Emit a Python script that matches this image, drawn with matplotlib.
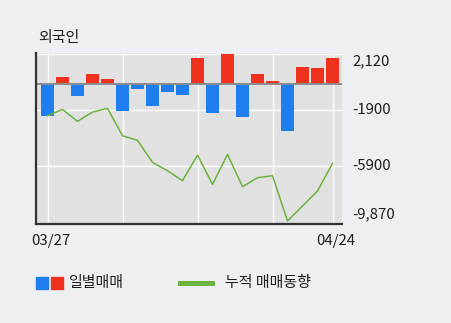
import matplotlib
matplotlib.use("Agg")
import matplotlib.pyplot as plt
from matplotlib.patches import Rectangle
from matplotlib.lines import Line2D
from matplotlib.transforms import offset_copy
import numpy as np

plt.rcParams['font.family'] = ['Noto Sans CJK KR', 'DejaVu Sans']

# Foreign investor net trading (daily) and its running total
daily = [-2310, 495, -894, 710, 328, -1972, -391, -1612, -606, -822,
         1837, -2092, 2120, -2379, 687, 184, -3409, 1214, 1118, 1860]
cumulative = [-2314, -1856, -2717, -2048, -1782, -3750, -4080, -5663, -6264, -6980,
              -5136, -7245, -5088, -7413, -6766, -6620, -9870, -8800, -7720, -5730]
date_labels = ["03/27", "04/24"]
date_ticks = [0, 19]
grid_days = [0, 5, 10, 15, 19]
y_ticks = [2120, -1900, -5900, -9870]
y_labels = ["2,120", "-1900", "-5900", "-9,870"]

W, H = 451, 323
BLUE = '#1F7EEF'
RED = '#EF321E'
GREEN = '#6DB33F'
TXT = '#1E1E1E'
FS = 10.8

fig = plt.figure(figsize=(W / 100, H / 100), dpi=100, facecolor='#EEEFF3')
left, right, top, bottom = 36, 341.7, 53.3, 223.5
ax = fig.add_axes([left / W, 1 - bottom / H, (right - left) / W, (bottom - top) / H])
ax.set_facecolor('#E1E1E1')

x = np.arange(len(daily))
bar_colors = [RED if v > 0 else BLUE for v in daily]
ax.bar(x, daily, width=0.87, color=bar_colors, zorder=2)
ax.axhline(0, color='#8C8C8C', lw=1.4, zorder=3)
ax.plot(x, cumulative, color=GREEN, lw=1.1, zorder=4)

ax.set_xlim(-0.767, 19.613)
ax.set_ylim(-10055, 2174)

for gx in grid_days:
    ax.axvline(gx, color='white', lw=1, zorder=1)
for gy in y_ticks[:3]:
    ax.axhline(gy, color='white', lw=1, zorder=1)

for side in ('top', 'right'):
    ax.spines[side].set_visible(False)
for side in ('left', 'bottom'):
    ax.spines[side].set_color('#333333')
    ax.spines[side].set_linewidth(1.6)
    ax.spines[side].set_zorder(5)
ax.tick_params(left=False, bottom=False, labelleft=False, labelbottom=False)

# value labels on the right
ytrans = ax.get_yaxis_transform()
label_x = (352 - left) / (right - left)
for val, lab in zip(y_ticks, y_labels):
    va = 'center'
    if val == max(y_ticks):
        va = 'top'
    elif val == min(y_ticks):
        va = 'bottom'
    ax.text(label_x, val, lab, transform=ytrans, ha='left', va=va,
            fontsize=FS, color=TXT)

# date labels below
xtrans = offset_copy(ax.get_xaxis_transform(), fig=fig, x=3.5, y=0, units='dots')
label_y = -(240.8 - bottom) / (bottom - top)
for pos, lab in zip(date_ticks, date_labels):
    ax.text(pos, label_y, lab, transform=xtrans, ha='center', va='center',
            fontsize=FS, color=TXT)

fig.text(37.7 / W, 1 - 38.3 / H, "외국인", ha='left', va='center',
         fontsize=FS, color=TXT)

# legend
sq = 12
ly = 283.3
fig.patches.append(Rectangle((35.7 / W, 1 - (ly + sq / 2) / H), sq / W, sq / H,
                             transform=fig.transFigure, color=BLUE))
fig.patches.append(Rectangle((51 / W, 1 - (ly + sq / 2) / H), sq / W, sq / H,
                             transform=fig.transFigure, color=RED))
fig.text(69.3 / W, 1 - ly / H, "일별매매", ha='left', va='center',
         fontsize=FS, color=TXT)
fig.lines.append(Line2D([180 / W, 211.7 / W], [1 - ly / H, 1 - ly / H],
                        transform=fig.transFigure, color=GREEN, lw=3.6))
fig.text(225 / W, 1 - ly / H, "누적 매매동향", ha='left', va='center',
         fontsize=FS, color=TXT)

fig.savefig('out.png', dpi=100, facecolor=fig.get_facecolor())
